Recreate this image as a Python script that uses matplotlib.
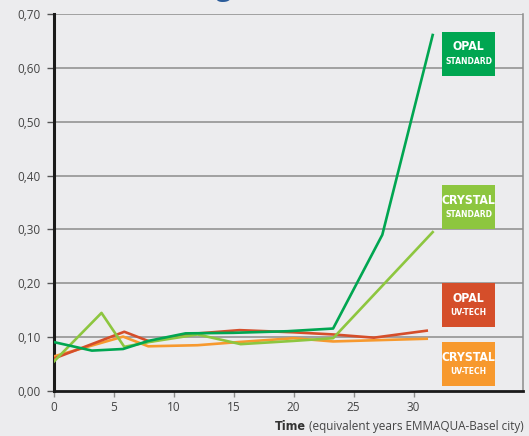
import matplotlib.pyplot as plt
from matplotlib.patches import Rectangle

plt.rcParams['font.family'] = ['Open Sans', 'DejaVu Sans']

# series data (time in equivalent years, value)
opal_std_x = [0, 3.2, 5.8, 7.9, 11.0, 15.0, 19.5, 23.3, 27.4, 31.6]
opal_std_y = [0.091, 0.075, 0.078, 0.093, 0.107, 0.108, 0.111, 0.116, 0.290, 0.661]

crystal_std_x = [0, 4.0, 5.9, 8.0, 12.0, 15.6, 20.0, 23.3, 31.6]
crystal_std_y = [0.054, 0.145, 0.082, 0.091, 0.105, 0.087, 0.093, 0.098, 0.295]

opal_uv_x = [0, 5.9, 8.0, 11.5, 15.5, 20.0, 23.3, 26.7, 31.1]
opal_uv_y = [0.060, 0.110, 0.092, 0.106, 0.113, 0.109, 0.105, 0.099, 0.112]

crystal_uv_x = [0, 5.8, 7.9, 12.0, 15.5, 20.0, 23.3, 31.1]
crystal_uv_y = [0.064, 0.101, 0.083, 0.085, 0.091, 0.098, 0.092, 0.097]

y_ticks = [0.0, 0.1, 0.2, 0.3, 0.4, 0.5, 0.6, 0.7]
x_ticks = [0, 5, 10, 15, 20, 25, 30]

labels = [("OPAL", "STANDARD", '#00a651', 32),
          ("CRYSTAL", "STANDARD", '#8dc63f', 185),
          ("OPAL", "UV-TECH", '#d54e2a', 283),
          ("CRYSTAL", "UV-TECH", '#f7992e', 342)]

W, H = 529, 436
bg = '#ececee'
fig = plt.figure(figsize=(W / 100, H / 100), dpi=100, facecolor=bg)
ax = fig.add_axes([53.5 / W, 1 - 391 / H, (523 - 53.5) / W, (391 - 14) / H])
ax.set_facecolor(bg)

for y in y_ticks[1:]:
    ax.axhline(y, color='#8c8c8c', lw=1.1, zorder=1)

ax.plot(crystal_uv_x, crystal_uv_y, color='#f7992e', lw=1.9, zorder=3)
ax.plot(opal_uv_x, opal_uv_y, color='#d54e2a', lw=1.9, zorder=3)
ax.plot(crystal_std_x, crystal_std_y, color='#8dc63f', lw=1.9, zorder=4)
ax.plot(opal_std_x, opal_std_y, color='#00a651', lw=1.9, zorder=5)

ax.set_xlim(0, (523 - 53.5) / 12.0)
ax.set_ylim(0, 0.70)
ax.set_yticks(y_ticks)
ax.set_yticklabels([f"{v:.2f}".replace('.', ',') for v in y_ticks])
ax.set_xticks(x_ticks)
ax.set_xticklabels([str(v) for v in x_ticks])
ax.tick_params(axis='y', length=5, width=1, color='#555555', labelsize=8.5,
               labelcolor='#444444', pad=4)
ax.tick_params(axis='x', length=4, width=1, color='#8c8c8c', labelsize=8.5,
               labelcolor='#444444', pad=3)

ax.spines['top'].set_visible(False)
ax.spines['right'].set_color('#8c8c8c')
ax.spines['right'].set_linewidth(1.1)
ax.spines['left'].set_color('#1a1a1a')
ax.spines['left'].set_linewidth(2.2)
ax.spines['bottom'].set_color('#1a1a1a')
ax.spines['bottom'].set_linewidth(2.0)

# label boxes on the right
for top_txt, sub_txt, col, ytop in labels:
    x0, w, h = 442, 53, 44
    fig.add_artist(Rectangle((x0 / W, 1 - (ytop + h) / H), w / W, h / H,
                             transform=fig.transFigure, facecolor=col,
                             edgecolor='none', zorder=10))
    fig.text((x0 + w / 2) / W, 1 - (ytop + 15) / H, top_txt, color='white',
             fontsize=8.8, fontweight='bold', family='DejaVu Sans',
             fontstretch='condensed', ha='center', va='center', zorder=11)
    fig.text((x0 + w / 2) / W, 1 - (ytop + 29.5) / H, sub_txt, color='white',
             fontsize=6.1, fontweight='bold', family='DejaVu Sans',
             fontstretch='condensed', ha='center', va='center', zorder=11)

# x axis title: bold "Time" + normal remainder
rest = fig.text(524 / W, 1 - 426 / H, " (equivalent years EMMAQUA-Basel city)",
                fontsize=8.5, color='#444444', ha='right', va='center')
fig.canvas.draw()
bb = rest.get_window_extent()
fig.text(bb.x0 / W, 1 - 426 / H, "Time", fontsize=9, color='#333333',
         fontweight='bold', family='DejaVu Sans', fontstretch='condensed',
         ha='right', va='center')

# cut-off title descender
fig.text(216 / W, 1 + 5 / H, "g", fontsize=20, fontweight='bold',
         color='#2b5c9a', ha='left', va='baseline')

fig.savefig('out.png', dpi=100, facecolor=bg)
